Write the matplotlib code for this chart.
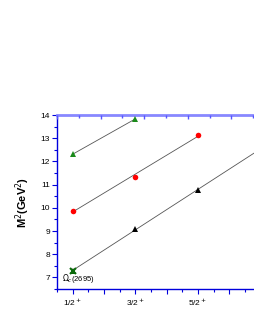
import numpy as np
import matplotlib
matplotlib.use("Agg")
import matplotlib.pyplot as plt
from matplotlib.ticker import MultipleLocator

plt.rcParams['font.family'] = ['Liberation Sans', 'DejaVu Sans']

# data
j_green = [0.5, 1.5]
m2_green = [12.31, 13.83]
j_red = [0.5, 1.5, 2.5]
m2_red = [9.88, 11.33, 13.14]
j_black = [0.5, 1.5, 2.5]
m2_black = [7.28, 9.09, 10.77]
j_exp = [0.5]
m2_exp = [7.26]
exp_label = r"$\Omega_c$(2695)"
xtick_pos = [0.5, 1.5, 2.5]
xtick_labels = [r"1/2$^+$", r"3/2$^+$", r"5/2$^+$"]

fig = plt.figure(figsize=(2.55, 3.3), dpi=100)
ax = fig.add_axes([57/255, 1-289/330, (260.5-57)/255, (289-115)/330])
ax.set_xlim(0.25, 3.5)
ax.set_ylim(6.5, 14)

line_kw = dict(color='#555555', lw=0.6, zorder=1)
for xs, ys, x_end in [(j_green, m2_green, 1.5), (j_red, m2_red, 2.5), (j_black, m2_black, 3.6)]:
    p = np.polyfit(xs, ys, 1)
    xx = np.array([0.5, x_end])
    ax.plot(xx, np.polyval(p, xx), **line_kw)

ax.plot(j_green, m2_green, '^', color='#1a8a1a', ms=4, mew=0, zorder=3)
ax.plot(j_red, m2_red, 'o', color='#ff0000', ms=4, mew=0, zorder=3)
ax.plot(j_black, m2_black, '^', color='black', ms=4, mew=0, zorder=3)
ax.plot(j_exp, m2_exp, 'x', color='#0a6a0a', ms=5, mew=1.5, zorder=4)
ax.plot(j_exp, m2_exp, '^', color='#0a6a0a', ms=3.5, mew=0, zorder=4)
ax.text(0.33, 6.95, exp_label, fontsize=5.5, ha='left', va='center')

blue = '#0000dd'
for s in ['left', 'bottom']:
    ax.spines[s].set_color(blue)
    ax.spines[s].set_linewidth(1.0)
ax.spines['right'].set_visible(False)
ax.spines['top'].set_color('#8888ff')
ax.spines['top'].set_linewidth(2.0)

ax.xaxis.set_major_locator(MultipleLocator(0.5))
ax.xaxis.set_minor_locator(MultipleLocator(0.25))
def xfmt(v, pos):
    for p, l in zip(xtick_pos, xtick_labels):
        if abs(v - p) < 1e-6:
            return l
    return ''
ax.xaxis.set_major_formatter(plt.FuncFormatter(xfmt))
ax.yaxis.set_major_locator(MultipleLocator(1))
ax.yaxis.set_minor_locator(MultipleLocator(0.5))
ax.tick_params(which='both', direction='out', colors=blue, labelcolor='black', labelsize=6, width=0.8, top=False, right=False)
ax.tick_params(which='major', length=3.5, pad=1.5)
ax.tick_params(which='minor', length=2)

# top axis ticks
top = ax.twiny()
top.set_xlim(0, (260.5-57)/21.8)
top.xaxis.set_major_locator(MultipleLocator(2))
top.xaxis.set_minor_locator(MultipleLocator(1))
top.tick_params(which='both', direction='in', colors='#5555ff', labeltop=False, width=1.0)
top.tick_params(which='major', length=3)
top.tick_params(which='minor', length=2)
for s in top.spines.values():
    s.set_visible(False)

ax.set_ylabel(r"M$^2$(GeV$^2$)", fontsize=8, fontweight='bold', labelpad=6)

fig.savefig('out.png', dpi=100)
